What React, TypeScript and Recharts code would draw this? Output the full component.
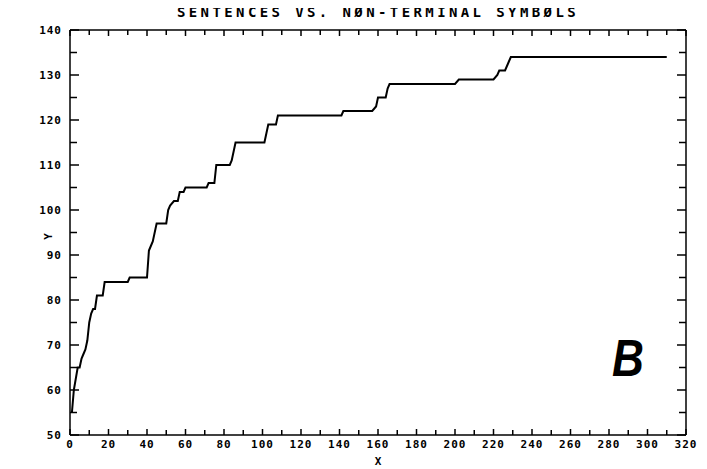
import React from "react";
import { LineChart, Line, XAxis, YAxis } from "recharts";

const xValues = [1, 2, 4, 5, 6, 7, 8, 9, 10, 11, 12, 13, 14, 17, 18, 30, 31, 40, 41, 42, 43, 45, 50, 51, 52, 54, 56, 57, 59, 60, 71, 72, 75, 76, 83, 84, 86, 101, 102, 103, 107, 108, 141, 142, 157, 159, 160, 164, 165, 166, 200, 202, 220, 222, 223, 226, 228, 229, 310];
const yValues = [55, 60, 65, 65, 67, 68, 69, 71, 75, 77, 78, 78, 81, 81, 84, 84, 85, 85, 91, 92, 93, 97, 97, 100, 101, 102, 102, 104, 104, 105, 105, 106, 106, 110, 110, 111, 115, 115, 117, 119, 119, 121, 121, 122, 122, 123, 125, 125, 127, 128, 128, 129, 129, 130, 131, 131, 133, 134, 134];

const xTicks = [0, 10, 20, 30, 40, 50, 60, 70, 80, 90, 100, 110, 120, 130, 140, 150, 160, 170, 180, 190, 200, 210, 220, 230, 240, 250, 260, 270, 280, 290, 300, 310, 320];
const yTicks = [50, 55, 60, 65, 70, 75, 80, 85, 90, 95, 100, 105, 110, 115, 120, 125, 130, 135, 140];

const titleText = "SENTENCES VS. NØN-TERMINAL SYMBØLS";
const xLabel = "X";
const yLabel = "Y";
const panelLetter = "B";

const data = xValues.map((x, i) => ({ x, y: yValues[i] }));

const FONT = "'DejaVu Sans Mono', monospace";
const labelStyle = { fontFamily: FONT, fontWeight: 700, fontSize: 11, letterSpacing: 1 } as const;

const BottomTick = (props: any) => {
  const { x, y, payload } = props;
  const major = payload.value % 20 === 0;
  return (
    <g>
      <line x1={x} y1={y} x2={x} y2={y - (major ? 6 : 5)} stroke="#000" strokeWidth={1.5} />
      {major && (
        <text x={x} y={y + 13} textAnchor="middle" fill="#000" style={labelStyle}>
          {payload.value}
        </text>
      )}
    </g>
  );
};

const TopTick = (props: any) => {
  const { x, y, payload } = props;
  const major = payload.value % 20 === 0;
  return <line x1={x} y1={y} x2={x} y2={y + (major ? 6 : 5)} stroke="#000" strokeWidth={1.5} />;
};

const LeftTick = (props: any) => {
  const { x, y, payload } = props;
  const major = payload.value % 10 === 0;
  return (
    <g>
      <line x1={x} y1={y} x2={x + (major ? 9 : 7)} y2={y} stroke="#000" strokeWidth={1.5} />
      {major && (
        <text x={x - 8} y={y + 4} textAnchor="end" fill="#000" style={labelStyle}>
          {payload.value}
        </text>
      )}
    </g>
  );
};

const RightTick = (props: any) => {
  const { x, y, payload } = props;
  const major = payload.value % 10 === 0;
  return <line x1={x} y1={y} x2={x - (major ? 9 : 7)} y2={y} stroke="#000" strokeWidth={1.5} />;
};

export default function App() {
  return (
    <div style={{ position: "relative", width: 699, height: 461 }}>
      <LineChart width={699} height={461} data={data} margin={{ top: 0, right: 0, bottom: 0, left: 0 }}>
        <XAxis
          xAxisId="bottom"
          dataKey="x"
          type="number"
          domain={[0, 320]}
          ticks={xTicks}
          interval={0}
          tickSize={0}
          tickMargin={0}
          tickLine={false}
          tick={<BottomTick />}
          height={34}
          axisLine={{ stroke: "#000", strokeWidth: 1.5 }}
          orientation="bottom"
        />
        <XAxis
          xAxisId="top"
          dataKey="x"
          type="number"
          domain={[0, 320]}
          ticks={xTicks}
          interval={0}
          tickSize={0}
          tickMargin={0}
          tickLine={false}
          tick={<TopTick />}
          height={22}
          axisLine={{ stroke: "#000", strokeWidth: 1.5 }}
          orientation="top"
        />
        <YAxis
          yAxisId="left"
          type="number"
          domain={[50, 140]}
          ticks={yTicks}
          interval={0}
          tickSize={0}
          tickMargin={0}
          tickLine={false}
          tick={<LeftTick />}
          width={62}
          axisLine={{ stroke: "#000", strokeWidth: 1.5 }}
          orientation="left"
        />
        <YAxis
          yAxisId="right"
          type="number"
          domain={[50, 140]}
          ticks={yTicks}
          interval={0}
          tickSize={0}
          tickMargin={0}
          tickLine={false}
          tick={<RightTick />}
          width={21}
          axisLine={{ stroke: "#000", strokeWidth: 1.5 }}
          orientation="right"
        />
        <Line
          xAxisId="bottom"
          yAxisId="left"
          dataKey="y"
          type="linear"
          stroke="#000"
          strokeWidth={2}
          dot={false}
          isAnimationActive={false}
        />
        <Line
          xAxisId="top"
          yAxisId="right"
          dataKey="y"
          type="linear"
          stroke="none"
          dot={false}
          isAnimationActive={false}
        />
      </LineChart>
      <div
        style={{
          position: "absolute",
          left: 62,
          width: 616,
          top: -4,
          textAlign: "center",
          fontFamily: FONT,
          fontWeight: 700,
          fontSize: 14,
          letterSpacing: 3.4,
          color: "#000",
          whiteSpace: "nowrap",
        }}
      >
        {titleText}
      </div>
      <div
        style={{
          position: "absolute",
          left: 62,
          width: 616,
          top: 447,
          textAlign: "center",
          fontFamily: FONT,
          fontWeight: 700,
          fontSize: 11,
          color: "#000",
        }}
      >
        {xLabel}
      </div>
      <div
        style={{
          position: "absolute",
          left: 37,
          top: 222,
          transform: "rotate(-90deg)",
          fontFamily: FONT,
          fontWeight: 700,
          fontSize: 11,
          color: "#000",
        }}
      >
        {yLabel}
      </div>
      <div
        style={{
          position: "absolute",
          left: 604,
          top: 320,
          transform: "scaleX(0.85)",
          transformOrigin: "left top",
          fontFamily: "'Liberation Sans', Arial, sans-serif",
          fontWeight: 700,
          fontStyle: "italic",
          fontSize: 52,
          lineHeight: "60px",
          color: "#000",
        }}
      >
        {panelLetter}
      </div>
    </div>
  );
}
